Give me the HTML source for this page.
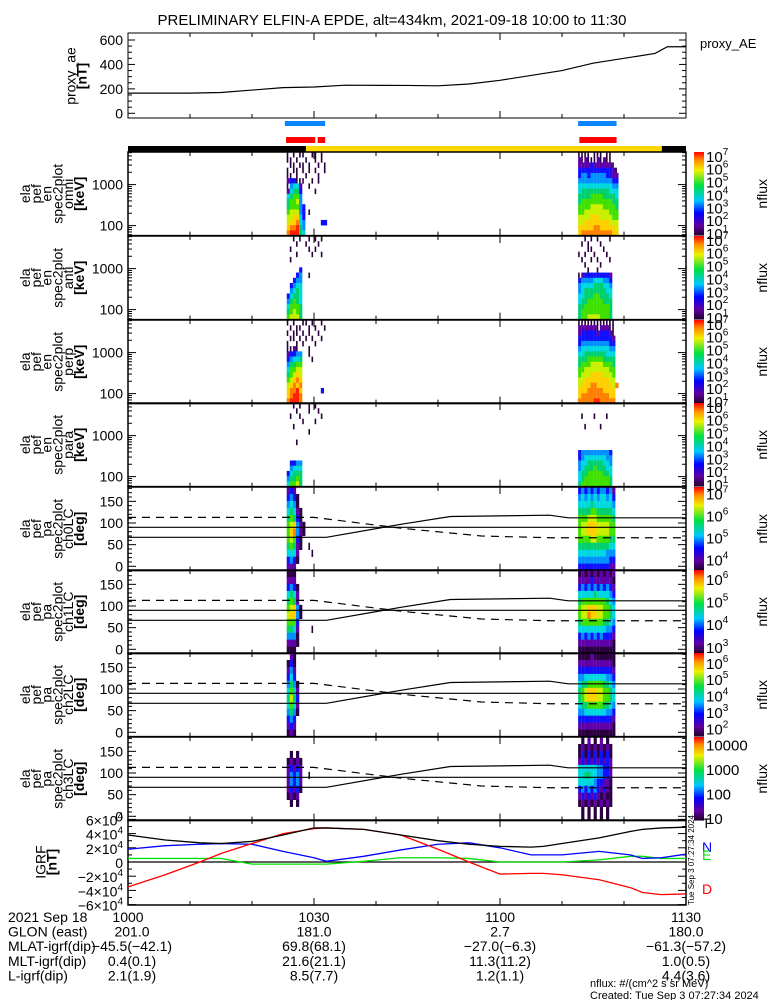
<!DOCTYPE html>
<html><head><meta charset="utf-8"><style>
html,body{margin:0;padding:0;background:#fff}
svg{display:block;font-family:"Liberation Sans",sans-serif}
</style></head><body>
<svg id="c" width="775" height="1000" viewBox="0 0 775 1000">
<defs><linearGradient id="cb" x1="0" y1="1" x2="0" y2="0">
<stop offset="0" stop-color="#200028"/><stop offset="0.12" stop-color="#6000a0"/><stop offset="0.27" stop-color="#0000ff"/><stop offset="0.42" stop-color="#00c8ff"/><stop offset="0.6" stop-color="#00e040"/><stop offset="0.78" stop-color="#f0f000"/><stop offset="0.9" stop-color="#ff9000"/><stop offset="1" stop-color="#ff0000"/></linearGradient></defs>
<text x="392" y="25" font-size="15" text-anchor="middle">PRELIMINARY ELFIN-A EPDE, alt=434km, 2021-09-18 10:00 to 11:30</text>
<g id="g"></g>
</svg>
<script>
// ---- data ----
const aeTimes=[0,10,15,20,25,30,35,45,50,55,60,65,70,75,80,85,87,90];
const aeValues=[165,165,170,190,210,215,230,228,225,240,270,310,350,410,450,490,545,545];
const aeTicks=[0,200,400,600];
const igrfTimes=[0,6,11.6,15,20,25,30,32,38,44,50,55,60,65,67,70,76,81,83,86,90];
const igrfT=[3.8,3.1,2.7,2.6,2.9,3.8,4.8,4.8,4.6,3.8,3.0,2.5,2.2,2.1,2.2,2.6,3.4,4.3,4.6,4.8,4.9];
const igrfN=[1.8,2.3,2.5,2.6,2.5,1.5,0.6,0.1,0.8,1.7,2.5,2.7,2.0,1.0,1.0,1.0,1.5,1.0,0.5,0.6,1.1];
const igrfE=[0.5,0.5,0.5,0.5,-0.3,-0.3,-0.3,-0.3,0.1,0.6,0.6,0.5,0.0,0.0,0.0,0.0,0.3,0.8,0.8,0.5,0.5];
const igrfD=[-3.5,-1.8,0,1.2,2.6,4.0,4.7,4.8,4.6,3.8,1.8,0,-1.7,-1.6,-1.6,-1.8,-2.5,-3.6,-4.3,-4.6,-4.5];
const igrfTicks=[-6,-4,-2,0,2,4,6];
const lcTimes=[0,32,44,52,68,71,90];
const lcValues=[67,67,97,115,118,112,112];
const alcTimes=[0,30,44,57,68,90];
const alcValues=[113,113,88,70,66,66];
const blueBars=[[25.3,31.8],[72.6,78.8]];
const redBars=[[25.5,30.2],[30.6,31.8],[72.8,78.8]];
const blobStarts=[25.6,72.6];
const energyTicks=[100,1000];
const paTicks=[0,50,100,150];
const cbLabels=[[7,6,5,4,3,2,1],[7,6,5,4,3,2,1],[7,6,5,4,3,2,1],[7,6,5,4,3,2,1],[7,6,5,4],[6,5,4,3],[6,5,4,3,2],[4,3,2,1]];
const cbRanges=[[0.8,7.3],[0.8,7.3],[0.8,7.3],[0.8,7.3],[3.5,7.3],[2.7,6.4],[1.5,6.6],[0.9,4.3]];
const panelLabels=[["ela","pef","en","spec2plot","omni","[keV]"],["ela","pef","en","spec2plot","anti","[keV]"],["ela","pef","en","spec2plot","perp","[keV]"],["ela","pef","en","spec2plot","para","[keV]"],["ela","pef","pa","spec2plot","ch0LC","[deg]"],["ela","pef","pa","spec2plot","ch1LC","[deg]"],["ela","pef","pa","spec2plot","ch2LC","[deg]"],["ela","pef","pa","spec2plot","ch3LC","[deg]"]];
const spec=[
[["1010110011010","1101001001010","0110110100101","1011010101001","1101001000100","2331110010100","1455200100000","2566300001000","5677400000000","6778400000000","6777430000000","7888430100000","8899530000000","899a540000033","9aab640000000","abbb650000000"],
 ["1111011101100","2121112121100","2222322222210","3333333333321","3443444443322","4444444444433","5555555555544","5666666666555","6666777766665","6777777777766","7777888877776","7788888888777","8888999888877","8899999999888","99999aa999998","9aaaaaaaaaa99"]],
[["0010100101010","0001001000100","0100000101000","0001000010010","0100000000000","0000000000000","0000300000000","0003400100000","0034400000000","0345500000000","0456500000000","3566500000000","4676500000000","5777600000000","6787600000000","7888600000000"],
 ["0010101000100","0101000100000","0001100010000","1010010001000","0100101000100","0010000100000","0001001000000","1233333333200","3444455544300","4555566655400","4566666665500","5566677666500","5667777766600","6677777777600","6777777777600","6778888777600"]],
[["1010011010010","0101100101001","1011010100100","0110101010010","1001010001000","1121000100000","2334400100000","3455600010000","4667700000000","5778800000000","6789800000000","789a900000000","89a9a00000000","9aab900000030","9abba00000000","abbba00000000"],
 ["1111111111110","2222221222110","2333332333210","3333333333320","3444444444330","4555555555440","5566666665550","6667777766660","6777888877760","7788888888770","7888999988870","8899999999880","8999aa999998a","999aaaaa99990","9aaaaaaaaa990","aaaaabbaaaaa0"]],
[["0010100101000","0001000100100","0100100000010","0000010001000","0010000000000","0000000100000","0000000000000","0001000000000","0000000000000","0000000000000","0000000000000","0334400000000","0455500000000","3566600000000","4667600000000","5778600000000"],
 ["0000000000000","0000000000000","0100010001000","0000000000000","0010000100000","0000000000000","0000000000000","0000000000000","0000000000000","3444444444300","3455555554400","4556666655400","4566676665500","5667777766500","5677777777600","6777777777600"]],
[["2320000000000","3431000000000","4541000000000","5652100000000","6763100000000","7894210000000","79a4210000000","7873100000000","6762100100000","5552000010000","3431000000000","2220000000000"],
 ["3434343443420","4545454554530","5555655555540","6666776666650","7778887777760","7889998888770","7889998888770","7777887777660","6666666666550","5555555554440","4444444444330","3333333333220"]],
[["1110000000000","2220000000000","3431000000000","5652000000000","6762000000000","7894100000000","8994100000000","7773000000000","6652000010000","4441000000000","2221000000000","1110000000000"],
 ["1212121212120","2222322222210","3434343434320","5555565555430","6777777776540","7889998877650","788a998877650","6777777766540","5555555554430","3434343433320","2222222222210","1111111111110"]],
[["0210000000000","1310000000000","2420000000000","3530000000000","4641000000000","5752000000000","6863000000000","5752000000000","4641000000000","3430000000000","2320000000000","1210000000000"],
 ["1111211111110","2222222222210","3333333333320","4455555554430","5667777766540","6789998877650","6789998877650","5667777766540","4455555554430","3333333333320","2222222222210","1111111111110"]],
[["0000000000000","0000000000000","0101000000000","1212100000000","2323200000000","2434200100000","2434200000000","2323100000000","1212000000000","0101000000000","0000000000000","0000000000000"],
 ["0102010201000","1212121212100","1313131313100","2323232323200","5555554433200","5566554433200","5555543322100","3434343232100","2323232121100","1212121212100","0101010101000","0101010101000"]]
];
const levelColors=["#ffffff","#2a0040","#6000a8","#1010ff","#0090ff","#00d8e0","#00d070","#40e000","#c8f000","#ffd000","#ff8000","#ff2000"];

// ---- drawing ----
const NS="http://www.w3.org/2000/svg";
const G=document.getElementById('g');
function el(tag,attrs,parent){const e=document.createElementNS(NS,tag);for(const k in attrs)e.setAttribute(k,attrs[k]);(parent||G).appendChild(e);return e;}
const X0=128,X1=686;
const xT=t=>X0+t*(X1-X0)/90;
const tops=[152,236,320,403,487,570,653,737];
const PH=83.6;

function timeTicks(y0,y1){
  for(let m=0;m<=90;m+=10){const x=xT(m);const L=(m%30===0)?7:4;
    const a=el('line',{x1:x,y1:y1,x2:x,y2:y1-L,stroke:'#000'});
    const b=el('line',{x1:x,y1:y0,x2:x,y2:y0+L,stroke:'#000'});}
}
function rotLabel(lines,xc,yc,name,colw){
  const g=el('g',{});
  const n=lines.length;
  lines.forEach((s,i)=>{const x=xc-(n-1)*colw/2+i*colw;
    const t=el('text',{x:0,y:0,'font-size':14,'text-anchor':'middle',transform:`translate(${x+5},${yc}) rotate(-90)`,'font-weight':s.startsWith('[')?'bold':'normal'},g);t.textContent=s;});
}
function polyline(times,vals,fx,fy,attrs,name){
  const pts=times.map((t,i)=>fx(t)+','+fy(vals[i])).join(' ');
  const p=el('polyline',Object.assign({points:pts,fill:'none'},attrs));
  return p;
}

// top AE panel
{const T=33,B=118;const yA=v=>113.3-v*(73.3/600);
 const r=el('rect',{x:X0,y:T,width:X1-X0,height:B-T,fill:'none',stroke:'#000'});
 timeTicks(T,B);
 for(let v=0;v<=600;v+=50){const y=yA(v);const L=v%200===0?7:4;el('line',{x1:X0,y1:y,x2:X0+L,y2:y,stroke:'#000'});el('line',{x1:X1,y1:y,x2:X1-L,y2:y,stroke:'#000'});}
 aeTicks.forEach(v=>{const t=el('text',{x:123,y:yA(v)+5,'font-size':14,'text-anchor':'end'});t.textContent=v;});
 polyline(aeTimes,aeValues,xT,yA,{stroke:'#000','stroke-width':1.2},'proxy-ae-line');
 rotLabel(['proxy_ae','[nT]'],76,76,'ae-axis-title',11);
 const t=el('text',{x:700,y:48,'font-size':13});t.textContent='proxy_AE';
}
// blue / red / orbit bars
blueBars.forEach(b=>{const r=el('rect',{x:xT(b[0]),y:121,width:xT(b[1])-xT(b[0]),height:5,fill:'#0a84ff'});});
redBars.forEach(b=>{const r=el('rect',{x:xT(b[0]),y:137,width:xT(b[1])-xT(b[0]),height:6,fill:'#ff0000'});});
{const a=el('rect',{x:X0,y:146,width:xT(28.7)-X0,height:6,fill:'#000'});
 const b=el('rect',{x:xT(28.7),y:146,width:xT(86.1)-xT(28.7),height:6,fill:'#ffd800'});
 const c=el('rect',{x:xT(86.1),y:146,width:X1-xT(86.1),height:6,fill:'#000'});}

// spectrogram panels
for(let p=0;p<8;p++){
  const T=tops[p],B=T+PH,isE=p<4;
  const rows=spec[p][0].length,rh=PH/rows;
  blobStarts.forEach((s,bi)=>{
    spec[p][bi].forEach((row,ri)=>{for(let ci=0;ci<row.length;ci++){const lv=parseInt(row[ci],16);if(!lv)continue;
      const x=xT(s+ci*0.5);const r=el('rect',{x:x,y:T+ri*rh,width:(isE&&row[ci]==='1')||(!isE&&ci>6&&bi===0)?1.6:3.2,height:rh+0.3,fill:levelColors[lv]});
      }});
  });
  const fr=el('rect',{x:X0,y:T,width:X1-X0,height:PH,fill:'none',stroke:'#000','stroke-width':1.5});
  timeTicks(T,B);
  if(isE){const yE=e=>B-10-(Math.log10(e)-2)*41;
    for(let d=1;d<=4;d++)for(let k=1;k<10;k++){const e=k*Math.pow(10,d);const y=yE(e);if(y<T||y>B)continue;const L=k===1?8:4;el('line',{x1:X0,y1:y,x2:X0+L,y2:y,stroke:'#000'});el('line',{x1:X1,y1:y,x2:X1-L,y2:y,stroke:'#000'});}
    energyTicks.forEach(e=>{const t=el('text',{x:123,y:yE(e)+5,'font-size':14,'text-anchor':'end'});t.textContent=e;});
  } else {const yP=d=>B-4.3-d*0.433;
    for(let d=0;d<=180;d+=10){const y=yP(d);const L=d%50===0?8:4;el('line',{x1:X0,y1:y,x2:X0+L,y2:y,stroke:'#000'});el('line',{x1:X1,y1:y,x2:X1-L,y2:y,stroke:'#000'});}
    paTicks.forEach(d=>{const t=el('text',{x:123,y:yP(d)+5,'font-size':14,'text-anchor':'end'});t.textContent=d;});
    const l90=el('line',{x1:X0,y1:yP(90),x2:X1,y2:yP(90),stroke:'#000','stroke-width':1.2});
    polyline(lcTimes,lcValues,xT,yP,{stroke:'#000','stroke-width':1.2},'loss-cone-line');
    polyline(alcTimes,alcValues,xT,yP,{stroke:'#000','stroke-width':1.2,'stroke-dasharray':'8,6'},'anti-loss-cone-line');
  }
  rotLabel(panelLabels[p],52,T+PH/2,'panel-axis-title',10.8);
  // colorbar
  const cb=el('rect',{x:694,y:T,width:10,height:PH,fill:'url(#cb)'});
  const [mn,mx]=cbRanges[p];
  cbLabels[p].forEach(v=>{const y=B-(v-mn)/(mx-mn)*PH;const t=el('text',{x:706,y:y+6,'font-size':15});
    if(p===7){t.textContent=String(Math.pow(10,v));}else{t.textContent='10';const s=el('tspan',{dy:-7,'font-size':10},t);s.textContent=v;}
    });
  const nf=el('text',{x:0,y:0,'font-size':14,'text-anchor':'middle',transform:`translate(767,${T+PH/2}) rotate(-90)`});nf.textContent='nflux';
}

// IGRF panel
{const T=820,B=905;const yI=v=>862-v*7.1;
 const fr=el('rect',{x:X0,y:T,width:X1-X0,height:B-T,fill:'none',stroke:'#000','stroke-width':1.5});
 timeTicks(T,B);
 for(let v=-6;v<=6;v+=1){const y=yI(v);const L=v%2===0?8:4;el('line',{x1:X0,y1:y,x2:X0+L,y2:y,stroke:'#000'});el('line',{x1:X1,y1:y,x2:X1-L,y2:y,stroke:'#000'});}
 igrfTicks.forEach(v=>{const t=el('text',{x:123,y:yI(v)+6,'font-size':14,'text-anchor':'end'});
   if(v===0)t.textContent='0';else{t.textContent=(v<0?'\u2212':'')+Math.abs(v)+'\u00d710';const s=el('tspan',{dy:-6,'font-size':10},t);s.textContent='4';}
   });
 const z=el('line',{x1:X0,y1:yI(0),x2:X1,y2:yI(0),stroke:'#000','stroke-width':1.2});
 polyline(igrfTimes,igrfE,xT,yI,{stroke:'#00e000','stroke-width':1.3},'igrf-e-line');
 polyline(igrfTimes,igrfN,xT,yI,{stroke:'#0000ff','stroke-width':1.3},'igrf-n-line');
 polyline(igrfTimes,igrfD,xT,yI,{stroke:'#ff0000','stroke-width':1.3},'igrf-d-line');
 polyline(igrfTimes,igrfT,xT,yI,{stroke:'#000','stroke-width':1.3},'igrf-t-line');
 rotLabel(['IGRF','[nT]'],46,862,'igrf-axis-title',11);
 [['T','#000',828],['N','#0000ff',852],['E','#00e000',860],['D','#ff0000',894]].forEach(a=>{const t=el('text',{x:702,y:a[2],'font-size':14,fill:a[1]});t.textContent=a[0];});
 const ts=el('text',{x:0,y:0,'font-size':8,transform:'translate(694,905) rotate(-90)'});ts.textContent='Tue Sep  3 07:27:34 2024';
}

// bottom annotation
const rowNames=['2021 Sep 18','GLON (east)','MLAT-igrf(dip)','MLT-igrf(dip)','L-igrf(dip)'];
const colTimes=[0,30,60,90];
const colVals=[["1000","201.0","-45.5(-42.1)","0.4(0.1)","2.1(1.9)"],["1030","181.0","69.8(68.1)","21.6(21.1)","8.5(7.7)"],["1100","2.7","-27.0(-6.3)","11.3(11.2)","1.2(1.1)"],["1130","180.0","-61.3(-57.2)","1.0(0.5)","4.4(3.6)"]];
rowNames.forEach((n,i)=>{const t=el('text',{x:8,y:922+i*14.6,'font-size':14});t.textContent=n;});
colTimes.forEach((tm,c)=>{colVals[c].forEach((v,i)=>{const t=el('text',{x:xT(tm)+(c===0&&i>0?4:0),y:922+i*14.6,'font-size':14,'text-anchor':'middle'});t.textContent=v.replace(/-/g,'\u2212');});});
{const a=el('text',{x:590,y:987,'font-size':11});a.textContent='nflux: #/(cm^2 s sr MeV)';
 const b=el('text',{x:590,y:999,'font-size':11});b.textContent='Created: Tue Sep  3 07:27:34 2024';}
</script>
</body></html>
